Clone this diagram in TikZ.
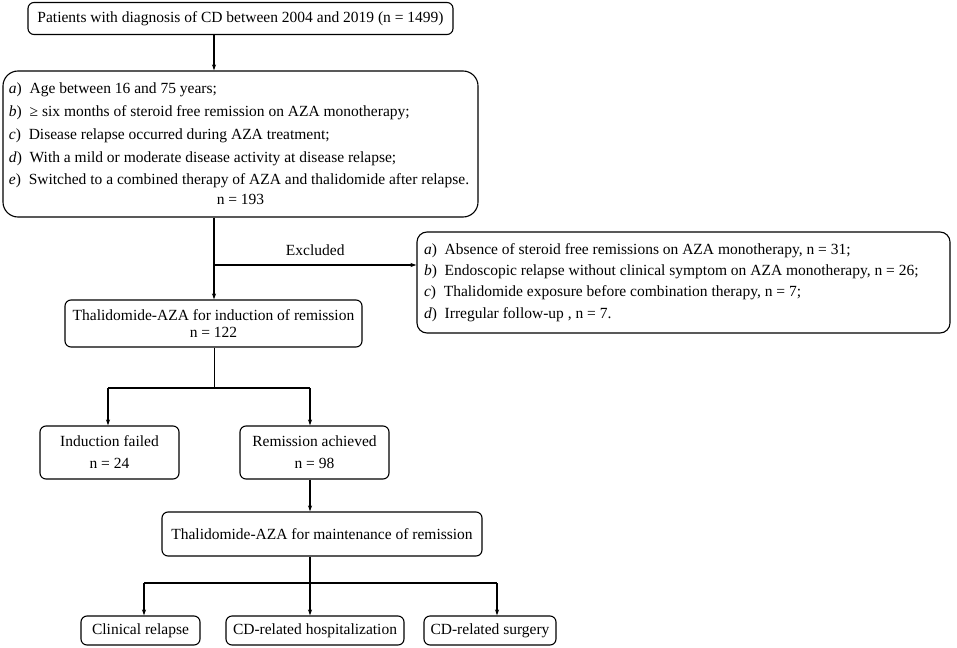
\documentclass[tikz,border=0pt]{standalone}
\usepackage{fontspec}
\setmainfont{Liberation Serif}
\usetikzlibrary{arrows.meta}
\newcommand{\fs}{\fontsize{15.5}{18}\selectfont}
\begin{document}
\begin{tikzpicture}[x=1pt,y=-1pt,
  box/.style={draw, line width=1.1pt, rounded corners=6pt, inner sep=0pt, font=\fs, align=center},
  conn/.style={line width=1.6pt},
  arr/.style={line width=1.6pt, -{Stealth[length=6pt,width=4pt]}},
  thin/.style={line width=0.8pt}]
\useasboundingbox (0,0) rectangle (957,647);
\node[box, minimum width=425pt, minimum height=32pt] (b1) at (240.5,18.5) {Patients with diagnosis of CD between 2004 and 2019 (n = 1499)};
\node[box, rounded corners=15pt, minimum width=475pt, minimum height=146pt, align=left] (b2) at (240.5,144) {%
\begin{minipage}{463pt}\fontsize{15.5}{22.8}\selectfont\raggedright
\textit{a}) \ Age between 16 and 75 years;\par
\textit{b}) \ ≥ six months of steroid free remission on AZA monotherapy;\par
\textit{c}) \ Disease relapse occurred during AZA treatment;\par
\textit{d}) \ With a mild or moderate disease activity at disease relapse;\par
\textit{e}) \ Switched to a combined therapy of AZA and thalidomide after relapse.\par
\fontsize{15.5}{20}\selectfont\centering n = 193\par
\end{minipage}};
\node[box, minimum width=297pt, minimum height=47pt, font=\fontsize{15.5}{17.5}\selectfont] (b3) at (213.5,323.5) {Thalidomide-AZA for induction of remission\\n = 122};
\node[box, rounded corners=10pt, minimum width=533pt, minimum height=101pt, align=left] (b4) at (683.5,282.5) {%
\begin{minipage}{519pt}\fontsize{15.5}{21.4}\selectfont\raggedright
\textit{a}) \ Absence of steroid free remissions on AZA monotherapy, n = 31;\par
\textit{b}) \ Endoscopic relapse without clinical symptom on AZA monotherapy, n = 26;\par
\textit{c}) \ Thalidomide exposure before combination therapy, n = 7;\par
\textit{d}) \ Irregular follow-up , n = 7.\par
\end{minipage}};
\node[box, minimum width=139pt, minimum height=53pt, font=\fontsize{15.5}{22}\selectfont] (b5) at (109.5,452.5) {Induction failed\\n = 24};
\node[box, minimum width=149pt, minimum height=53pt, font=\fontsize{15.5}{22}\selectfont] (b6) at (314.5,452.5) {Remission achieved\\n = 98};
\node[box, minimum width=320pt, minimum height=44pt] (b7) at (322,534) {Thalidomide-AZA for maintenance of remission};
\node[box, minimum width=119pt, minimum height=29pt] (b8) at (140.5,630.5) {Clinical relapse};
\node[box, minimum width=178pt, minimum height=29pt] (b9) at (315,630.5) {CD-related hospitalization};
\node[box, minimum width=132pt, minimum height=29pt] (b10) at (490,630.5) {CD-related surgery};
% connectors
\coordinate (t1) at (214,0);
\coordinate (j1) at (214,265);
\draw[arr] (t1 |- b1.south) -- (t1 |- b2.north);
\draw[arr] (t1 |- b2.south) -- (t1 |- b3.north);
\draw[arr] (j1) -- (b4.west |- j1) node[midway, above=5pt, font=\fs] (excl) {Excluded};
\coordinate (j2) at (214,388);
\coordinate (l2) at (108,388);
\coordinate (r2) at (310,388);
\draw[thin] (t1 |- b3.south) -- (j2);
\draw[conn] (l2) -- (r2);
\draw[arr] (l2) -- (l2 |- b5.north);
\draw[arr] (r2) -- (r2 |- b6.north);
\coordinate (t3) at (310,0);
\draw[arr] (t3 |- b6.south) -- (t3 |- b7.north);
\coordinate (j3) at (310,583);
\coordinate (l3) at (144,583);
\coordinate (r3) at (497,583);
\draw[conn] (t3 |- b7.south) -- (j3);
\draw[conn] (l3) -- (r3);
\draw[arr] (l3) -- (l3 |- b8.north);
\draw[arr] (j3) -- (j3 |- b9.north);
\draw[arr] (r3) -- (r3 |- b10.north);
\end{tikzpicture}
\end{document}
